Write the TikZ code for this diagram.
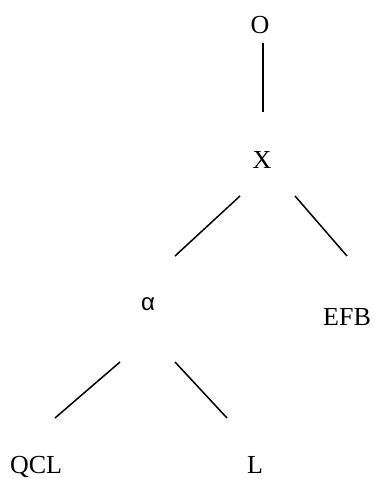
\documentclass[tikz,border=0pt]{standalone}
\usepackage{fontspec}
\setmainfont{Liberation Serif}
\newfontfamily\alphafont{Liberation Sans}
\usetikzlibrary{positioning}

\tikzset{
  lbl/.style={inner sep=0pt, anchor=base, font=\fontsize{26}{26}\selectfont},
  edge/.style={line width=1.5pt}
}

\begin{document}
\begin{tikzpicture}[x=1pt, y=-1pt]
\useasboundingbox (0,0) rectangle (374,479);
% labels
\node[lbl] (o) at (260,33) {O};
\node[lbl] (x) at (262,168) {X};
\node[lbl, font=\alphafont\fontsize{24}{24}\selectfont] (alpha) at (148,310) {α};
\node[lbl] (efb) at (347,325) {EFB};
\node[lbl, text depth=0pt] (qcl) at (36,473) {QCL};
\node[lbl, text depth=0pt] (l) at (255,473) {L};
% line ends
\coordinate (o-x1) at (263,43);
\coordinate (o-x2) at (263,112);
\coordinate (x-a1) at (240,196);
\coordinate (x-a2) at (175,256);
\coordinate (x-e1) at (295,196);
\coordinate (x-e2) at (347,256);
\coordinate (a-q1) at (120,362);
\coordinate (a-q2) at (55,418);
\coordinate (a-l1) at (175,362);
\coordinate (a-l2) at (227,418);
\draw[edge] (o-x1) -- (o-x2);
\draw[edge] (x-a1) -- (x-a2);
\draw[edge] (x-e1) -- (x-e2);
\draw[edge] (a-q1) -- (a-q2);
\draw[edge] (a-l1) -- (a-l2);
\end{tikzpicture}
\end{document}
